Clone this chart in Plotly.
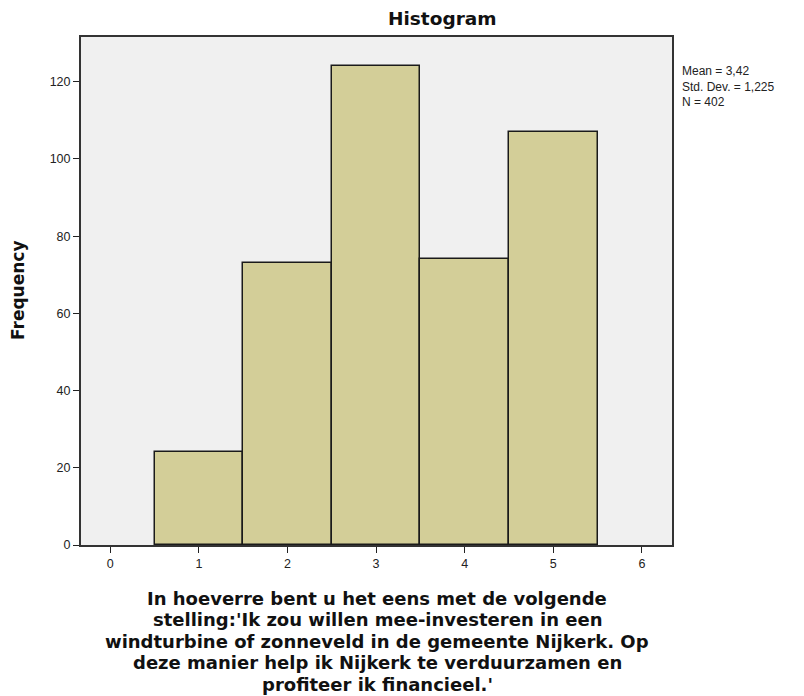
import plotly.graph_objects as go

categories = [1, 2, 3, 4, 5]
frequencies = [24, 73, 124, 74, 107]
x_ticks = [0, 1, 2, 3, 4, 5, 6]
y_ticks = [0, 20, 40, 60, 80, 100, 120]
stats_lines = ["Mean = 3,42", "Std. Dev. = 1,225", "N = 402"]
x_title_lines = [
    "In hoeverre bent u het eens met de volgende",
    "stelling:'Ik zou willen mee-investeren in een",
    "windturbine of zonneveld in de gemeente Nijkerk. Op",
    "deze manier help ik Nijkerk te verduurzamen en",
    "profiteer ik financieel.'",
]

TICKFONT = "Liberation Sans, Arial, sans-serif"
BOLDFONT = "DejaVu Sans, Verdana, sans-serif"

# screen geometry of the plot area (page has an 8px body margin)
PL, PR, PT, PB = 81, 672, 37, 545
PW, PH = PR - PL, PB - PT
OFF = 8
W, H = 804 - OFF, 696 - OFF


def px(sx):
    return (sx - PL) / PW


def py(sy):
    return (PB - sy) / PH


fig = go.Figure(go.Bar(
    x=categories, y=frequencies, width=1,
    marker=dict(color="#D3CE98", line=dict(color="#1a1a1a", width=1.5)),
))

fig.update_layout(
    width=W, height=H,
    margin=dict(l=PL - OFF, r=W - (PR - OFF), t=PT - OFF, b=H - (PB - OFF)),
    paper_bgcolor="white", plot_bgcolor="#F0F0F0",
    font=dict(family=TICKFONT, size=12, color="#222"),
    showlegend=False,
    bargap=0,
)
fig.update_xaxes(range=[-0.33, 6.34], tickvals=x_ticks, ticks="outside", ticklen=6,
                 tickcolor="#222", showgrid=False, zeroline=False,
                 showline=True, linecolor="#333", linewidth=2, mirror=True,
                 tickfont=dict(size=12.5, color="#222"))
fig.update_yaxes(range=[0, 131.6], tickvals=y_ticks, ticks="outside", ticklen=6,
                 tickcolor="#222", showgrid=False, zeroline=False,
                 showline=True, linecolor="#333", linewidth=2, mirror=True,
                 tickfont=dict(size=12.5, color="#222"))

# title
fig.add_annotation(text="<b>Histogram</b>", xref="paper", yref="paper",
                   x=px(442), y=py(18), xanchor="center", yanchor="middle",
                   showarrow=False, font=dict(family=BOLDFONT, size=18.5, color="#111"))
# y-axis title
fig.add_annotation(text="<b>Frequency</b>", xref="paper", yref="paper",
                   x=px(18), y=py(290), xanchor="center", yanchor="middle", textangle=-90,
                   showarrow=False, font=dict(family=BOLDFONT, size=17, color="#111"))
# stats box
fig.add_annotation(text="<br>".join(stats_lines), xref="paper", yref="paper",
                   x=px(680), y=py(86), xanchor="left", yanchor="middle", align="left",
                   showarrow=False, font=dict(family=TICKFONT, size=12, color="#222"))
# x-axis title
for i, line in enumerate(x_title_lines):
    fig.add_annotation(text="<b>" + line + "</b>", xref="paper", yref="paper",
                       x=px(377), y=py(598 + 21.5 * i), xanchor="center", yanchor="middle",
                       showarrow=False, font=dict(family=BOLDFONT, size=18, color="#111"))

fig.write_html("out.html")
